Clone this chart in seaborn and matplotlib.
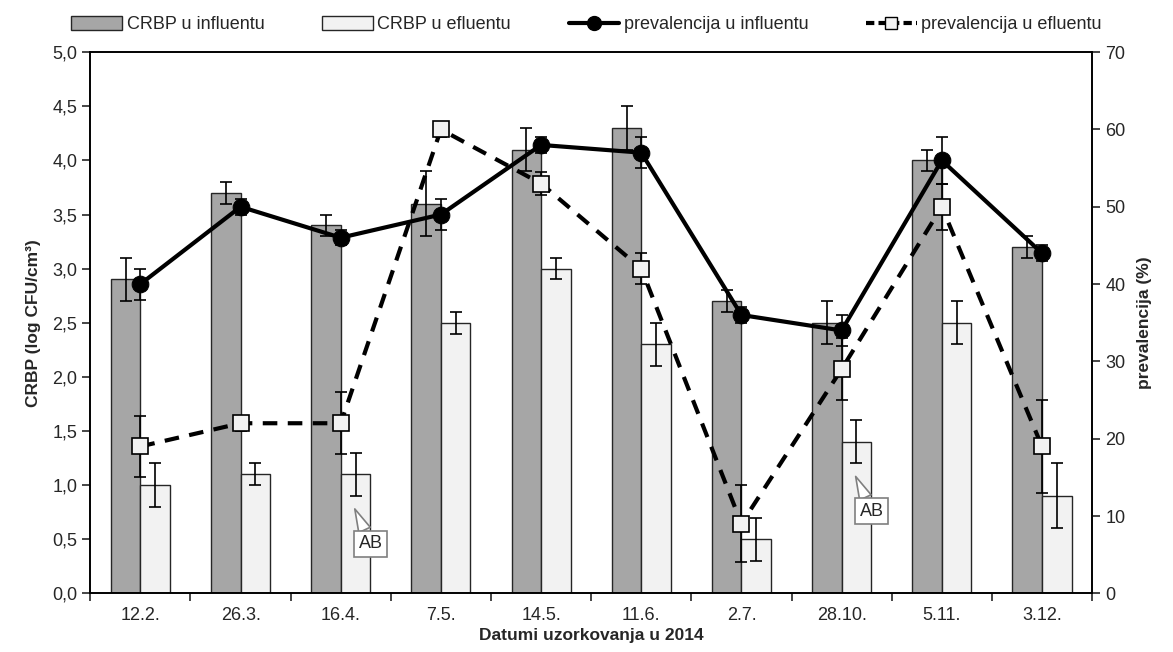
import numpy as np
import pandas as pd
import matplotlib
matplotlib.use("Agg")
import matplotlib.pyplot as plt
import matplotlib.ticker as mticker
from matplotlib.patches import Patch
from matplotlib.lines import Line2D
import seaborn as sns

sns.set_style("white")
plt.rcParams["font.family"] = ["Liberation Sans", "DejaVu Sans"]

datumi = ["12.2.", "26.3.", "16.4.", "7.5.", "14.5.", "11.6.", "2.7.", "28.10.", "5.11.", "3.12."]

crbp_influent = [2.9, 3.7, 3.4, 3.6, 4.1, 4.3, 2.7, 2.5, 4.0, 3.2]
crbp_influent_err = [0.2, 0.1, 0.1, 0.3, 0.2, 0.2, 0.1, 0.2, 0.1, 0.1]
crbp_efluent = [1.0, 1.1, 1.1, 2.5, 3.0, 2.3, 0.5, 1.4, 2.5, 0.9]
crbp_efluent_err = [0.2, 0.1, 0.2, 0.1, 0.1, 0.2, 0.2, 0.2, 0.2, 0.3]

prev_influent = [40, 50, 46, 49, 58, 57, 36, 34, 56, 44]
prev_influent_err = [2, 1, 1, 2, 1, 2, 1, 2, 3, 1]
prev_efluent = [19, 22, 22, 60, 53, 42, 9, 29, 50, 19]
prev_efluent_err = [4, 1, 4, 1, 1.5, 2, 5, 4, 3, 6]

oznake = ["AB", "AB"]
oznake_datum = ["16.4.", "28.10."]

df = pd.DataFrame({
    "datum": datumi * 2,
    "crbp": crbp_influent + crbp_efluent,
    "uzorak": ["CRBP u influentu"] * 10 + ["CRBP u efluentu"] * 10,
})

col_inf = "#a6a6a6"
col_ef = "#f2f2f2"
fs = 13

fig, ax = plt.subplots(figsize=(11.73, 6.52), dpi=100)
fig.subplots_adjust(left=0.077, right=0.931, top=0.920, bottom=0.090)

sns.barplot(data=df, x="datum", y="crbp", hue="uzorak", palette=[col_inf, col_ef],
            width=0.59, errorbar=None, edgecolor="#262626", linewidth=1.0,
            legend=False, ax=ax)

# error bars on the bars
centers = [p.get_x() + p.get_width() / 2 for p in ax.patches[:20]]
ax.errorbar(centers[:10], crbp_influent, yerr=crbp_influent_err, fmt="none",
            ecolor="black", elinewidth=1.2, capsize=4, capthick=1.2, zorder=3)
ax.errorbar(centers[10:], crbp_efluent, yerr=crbp_efluent_err, fmt="none",
            ecolor="black", elinewidth=1.2, capsize=4, capthick=1.2, zorder=3)

ax.set_ylim(0, 5)
ax.set_xlim(-0.5, 9.5)
ax.yaxis.set_major_locator(mticker.MultipleLocator(0.5))
ax.yaxis.set_major_formatter(mticker.FuncFormatter(lambda v, _: f"{v:.1f}".replace(".", ",")))
ax.set_xticks(np.arange(-0.5, 10, 1), minor=True)
ax.tick_params(axis="x", which="major", length=0, labelsize=fs, pad=10)
ax.tick_params(axis="x", which="minor", length=6, width=1.2, direction="out", bottom=True)
ax.tick_params(axis="y", length=6, width=1.2, direction="out", left=True, labelsize=fs)
ax.set_xlabel("Datumi uzorkovanja u 2014", fontsize=12.5, fontweight="bold", labelpad=3)
ax.set_ylabel("CRBP (log CFU/cm³)", fontsize=12.5, fontweight="bold", labelpad=8)
for s in ax.spines.values():
    s.set_color("black")
    s.set_linewidth(1.2)

# callouts
for txt, d in zip(oznake, oznake_datum):
    i = datumi.index(d)
    yb = crbp_efluent[i] - crbp_efluent_err[i]
    ax.annotate(txt, xy=(i + 0.14, yb - 0.12), xytext=(i + 0.30, yb - 0.44),
                fontsize=fs, ha="center", va="center", zorder=4,
                bbox=dict(boxstyle="square,pad=0.25", fc="white", ec="#7f7f7f", lw=1.2),
                arrowprops=dict(arrowstyle="wedge,tail_width=0.7,shrink_factor=0.5",
                                fc="white", ec="#7f7f7f", lw=1.2, shrinkA=0, shrinkB=0))

# prevalence on right axis
ax2 = ax.twinx()
idx = np.arange(len(datumi))
ax2.errorbar(idx, prev_influent, yerr=prev_influent_err, fmt="none", ecolor="black",
             elinewidth=1.2, capsize=4, capthick=1.2, zorder=2)
ax2.errorbar(idx, prev_efluent, yerr=prev_efluent_err, fmt="none", ecolor="black",
             elinewidth=1.2, capsize=4, capthick=1.2, zorder=2)
sns.lineplot(x=idx, y=prev_influent, ax=ax2, color="black", linewidth=3, marker="o",
             markersize=12, markerfacecolor="black", markeredgecolor="black", zorder=4)
sns.lineplot(x=idx, y=prev_efluent, ax=ax2, color="black", linewidth=3,
             linestyle=(0, (3.5, 2.5)), marker="s", markersize=11,
             markerfacecolor="#f2f2f2", markeredgecolor="black", markeredgewidth=1.2, zorder=4)
ax2.set_ylim(0, 70)
ax2.set_xlim(-0.5, 9.5)
ax2.yaxis.set_major_locator(mticker.MultipleLocator(10))
ax2.tick_params(axis="y", length=6, width=1.2, direction="out", right=True, labelsize=fs)
ax2.set_ylabel("prevalencija (%)", fontsize=12.5, fontweight="bold", labelpad=8)
for s in ax2.spines.values():
    s.set_color("black")
    s.set_linewidth(1.2)

handles = [
    Patch(facecolor=col_inf, edgecolor="#262626", label="CRBP u influentu"),
    Patch(facecolor=col_ef, edgecolor="#262626", label="CRBP u efluentu"),
    Line2D([], [], color="black", lw=3, marker="o", markersize=10, label="prevalencija u influentu"),
    Line2D([], [], color="black", lw=3, linestyle=(0, (2, 1)), marker="s", markersize=9,
           markerfacecolor="#f2f2f2", markeredgecolor="black", label="prevalencija u efluentu"),
]
fig.legend(handles=handles, loc="upper center", bbox_to_anchor=(0.5, 1.0), ncol=4,
           frameon=False, fontsize=fs, handlelength=2.8, handleheight=0.8,
           handletextpad=0.25, columnspacing=3.2)

fig.savefig("out.png", dpi=100)
